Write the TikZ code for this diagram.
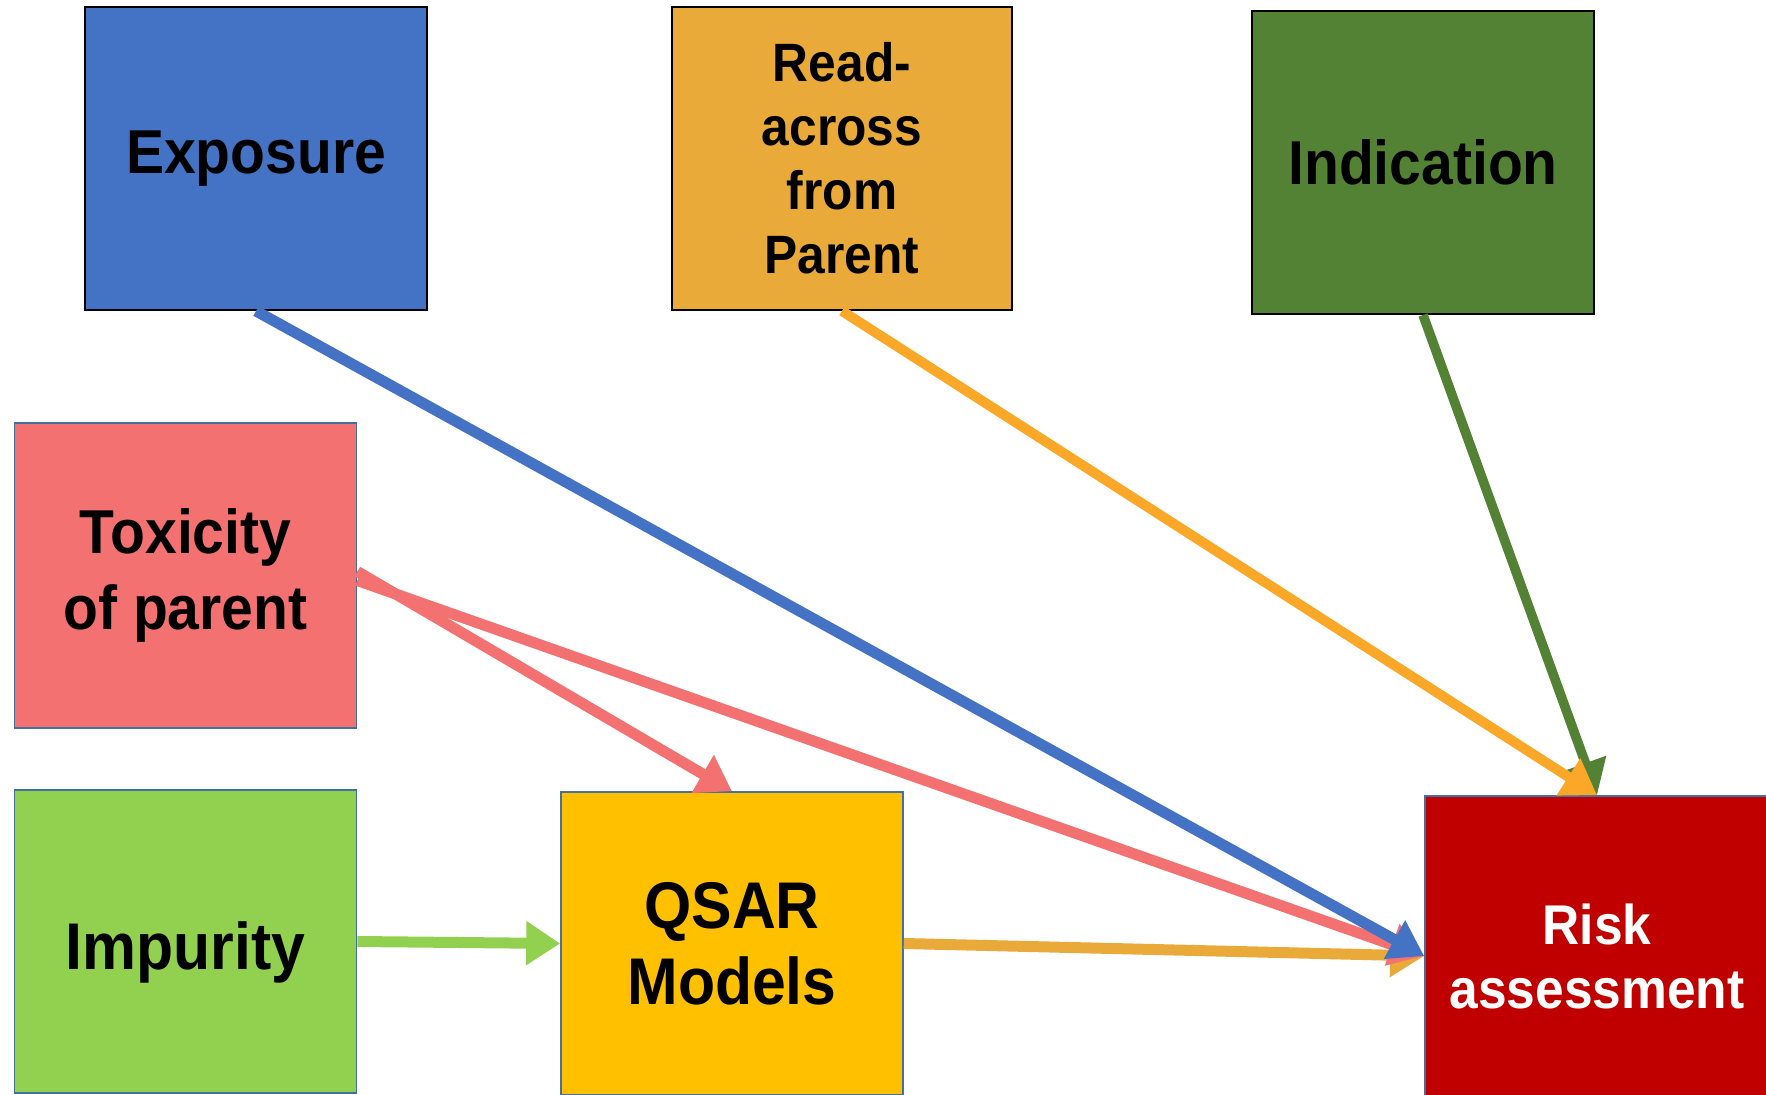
\documentclass[tikz,border=0pt]{standalone}
\usepackage{fontspec}
\setmainfont{Liberation Sans}[FakeStretch=0.92]
\usetikzlibrary{arrows.meta}
\definecolor{cExp}{HTML}{4472C4}
\definecolor{cRead}{HTML}{EAAA3A}
\definecolor{cReadArr}{HTML}{FBA828}
\definecolor{cInd}{HTML}{548235}
\definecolor{cTox}{HTML}{F47171}
\definecolor{cImp}{HTML}{92D050}
\definecolor{cQsar}{HTML}{FFC000}
\definecolor{cQsarArr}{HTML}{EAAA3A}
\definecolor{cRisk}{HTML}{C00000}
\definecolor{cEdge}{HTML}{41719C}
\newcommand{\lowertext}[2]{\raisebox{-#1}[\height][\depth]{\setlength{\tabcolsep}{0pt}\begin{tabular}{c}#2\end{tabular}}}
\tikzset{
  box/.style={rectangle, inner sep=0pt, align=center, font=\bfseries,
    minimum width=171pt, minimum height=151.5pt},
  topbox/.style={box, draw=black, line width=1pt},
  lowbox/.style={box, draw=cEdge, line width=0.8pt},
  arr/.style={line width=5.5pt, -{Triangle[length=17pt,width=21pt]}},
}
\begin{document}
\begin{tikzpicture}[x=0.5pt,y=-0.5pt]
\useasboundingbox (0,0) rectangle (1766,1095);
\node[topbox, fill=cExp, font=\bfseries\fontsize{31}{38}\selectfont] (exp) at (256,158.5) {Exposure};
\node[topbox, fill=cRead, font=\bfseries\fontsize{27}{32}\selectfont, minimum width=170pt] (read) at (842,158.5) {Read-\\across\\from\\Parent};
\node[topbox, fill=cInd, font=\bfseries\fontsize{31}{38}\selectfont] (ind) at (1423,162.5) {Indication};
\node[lowbox, fill=cTox, font=\bfseries\fontsize{31}{38}\selectfont, minimum height=152.5pt] (tox) at (185.5,575.5) {Toxicity\\of parent};
\node[lowbox, fill=cImp, font=\bfseries\fontsize{33}{38}\selectfont] (imp) at (185.5,941.5) {\lowertext{6.5pt}{Impurity}};
\node[lowbox, fill=cQsar, font=\bfseries\fontsize{33}{38}\selectfont, minimum width=171pt] (qsar) at (732,943.5) {\lowertext{4pt}{QSAR\\Models}};
\node[lowbox, fill=cRisk, text=white, font=\bfseries\fontsize{28}{32}\selectfont, minimum width=172pt, minimum height=160pt] (risk) at (1597,956) {Risk\\assessment};

\draw[arr, draw=cImp, fill=cImp] (imp.east) -- (qsar.west);
\draw[arr, draw=cQsarArr, fill=cQsarArr] (qsar.east) -- (risk.west);
\draw[arr, draw=cTox, fill=cTox] ([yshift=-2.5pt]tox.east) -- (risk.west);
\draw[arr, draw=cTox, fill=cTox] ([yshift=2pt]tox.east) -- (qsar.north);
\draw[arr, draw=cExp, fill=cExp] (exp.south) -- (risk.west);
\draw[arr, draw=cInd, fill=cInd, line width=4.8pt] (ind.south) -- (risk.north);
\draw[arr, draw=cReadArr, fill=cReadArr, line width=5pt] (read.south) -- (risk.north);
\end{tikzpicture}
\end{document}
